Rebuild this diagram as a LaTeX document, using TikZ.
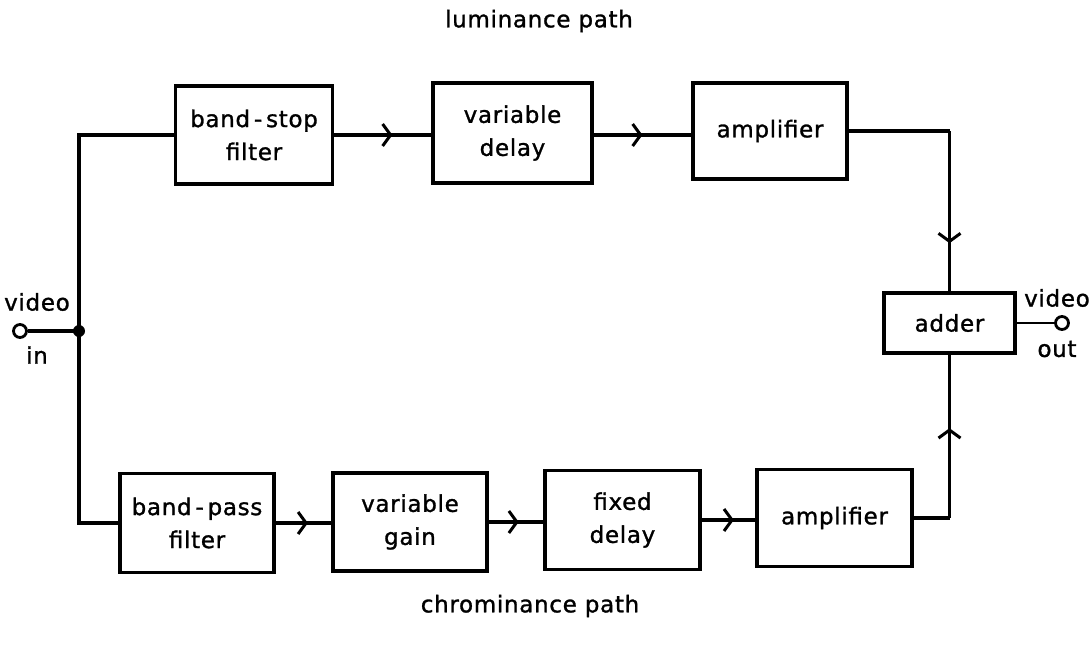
\documentclass[tikz,border=0pt]{standalone}
\usepackage{fontspec}
\setmainfont{DejaVu Sans}[LetterSpace=3,FakeBold=1.2]
\usetikzlibrary{arrows.meta,decorations.markings}
\begin{document}
\begin{tikzpicture}[x=1pt,y=-1pt,line width=3.4pt,
  blk/.style={draw,rectangle,align=center,font=\fontsize{23}{33}\selectfont,inner sep=0pt},
  lbl/.style={font=\fontsize{23}{26}\selectfont,inner sep=0pt},
  midarrow/.style={postaction={decorate},decoration={markings,mark=at position #1 with {\arrow{Straight Barb[length=8pt,width=22pt,line width=3pt]}}}},
  midarrow/.default=0.55,
  term/.style={circle,draw,line width=2.8pt,minimum size=13pt,inner sep=0pt,fill=white}]
\useasboundingbox (0,0) rectangle (1091,645);
% luminance path
\node[blk,minimum width=157pt,minimum height=98pt] (bs) at (254,135) {band\,-\,stop\\filter};
\node[blk,minimum width=159pt,minimum height=100pt] (vd) at (512.5,133) {variable\\delay};
\node[blk,minimum width=154pt,minimum height=96pt] (a1) at (770,131) {amplifier};
\node[blk,minimum width=131pt,minimum height=60pt] (ad) at (949.5,323) {adder};
% chrominance path
\node[blk,minimum width=154pt,minimum height=99pt] (bp) at (197,523) {band\,-\,pass\\filter};
\node[blk,minimum width=154pt,minimum height=98pt] (vg) at (410,522) {variable\\gain};
\node[blk,minimum width=155pt,minimum height=99pt] (fd) at (622.5,520) {fixed\\delay};
\node[blk,minimum width=155pt,minimum height=97pt] (a2) at (834.5,518) {amplifier};
% labels
\node[lbl] (lum) at (539,21) {luminance path};
\node[lbl] (chr) at (530,606) {chrominance path};
\node[lbl] (vin) at (37,302) {video};
\node[lbl] (in) at (37,355) {in};
\node[lbl] (vout) at (1057,298) {video};
\node[lbl] (out) at (1057,349) {out};
% terminals and junction
\coordinate (j) at (79,331);
\node[term] (tin) at (20,331) {};
\node[term] (tout) at (1062,323) {};
\fill (j) circle (6pt);
% connectors
\draw (tin) -- (j);
\draw (bs.west) -| (j) |- (bp.west);
\draw[midarrow=0.6] (bs.east) -- (vd.west |- bs.east);
\draw[midarrow=0.5] (vd.east |- bs.east) -- (a1.west |- bs.east);
\coordinate (c1) at (ad.north |- a1.east);
\draw (a1.east) -- (c1);
\draw[midarrow=0.7] (c1) -- (ad.north);
\draw[midarrow=0.58] (bp.east) -- (vg.west |- bp.east);
\draw[midarrow=0.55] (vg.east) -- (fd.west |- vg.east);
\draw[midarrow=0.6] (fd.east) -- (a2.west |- fd.east);
\coordinate (c2) at (ad.south |- a2.east);
\draw (a2.east) -- (c2);
\draw[midarrow=0.55] (c2) -- (ad.south);
\draw[line width=2.8pt] (ad.east) -- (tout);
\end{tikzpicture}
\end{document}
